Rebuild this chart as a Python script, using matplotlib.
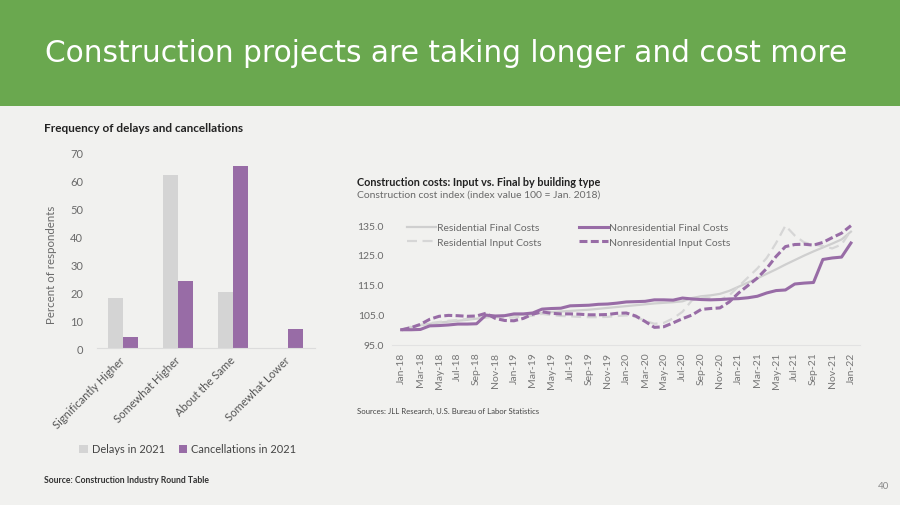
import numpy as np
import matplotlib
matplotlib.use("Agg")
import matplotlib.pyplot as plt
from matplotlib.patches import Rectangle

# ---- left chart data (percent of respondents)
categories = ["Significantly Higher", "Somewhat Higher", "About the Same", "Somewhat Lower"]
delays_2021 = [18, 62, 20, 0]
cancellations_2021 = [4, 24, 65, 7]

# ---- right chart data (index, 100 = Jan 2018), monthly Jan-18 .. Jan-22
month_labels = ["Jan-18", "Mar-18", "May-18", "Jul-18", "Sep-18", "Nov-18",
                "Jan-19", "Mar-19", "May-19", "Jul-19", "Sep-19", "Nov-19",
                "Jan-20", "Mar-20", "May-20", "Jul-20", "Sep-20", "Nov-20",
                "Jan-21", "Mar-21", "May-21", "Jul-21", "Sep-21", "Nov-21",
                "Jan-22"]
res_final = [100.0, 100.8, 101.5, 102.0, 102.4, 102.7, 103.0, 103.3, 103.7, 104.1,
             104.4, 104.7, 104.9, 105.1, 105.3, 105.6, 105.9, 106.1, 106.3, 106.5,
             106.7, 107.0, 107.3, 107.6, 107.9, 108.2, 108.5, 108.8, 109.0, 109.2,
             109.5, 110.6, 111.2, 111.5, 112.0, 113.0, 114.4, 115.8, 117.2, 118.7,
             120.2, 121.8, 123.3, 124.8, 126.2, 127.5, 128.8, 130.2, 132.8]
res_input = [100.0, 101.0, 101.6, 102.2, 102.6, 103.0, 103.3, 103.6, 103.9, 104.3,
             104.2, 104.0, 104.1, 104.4, 104.7, 105.3, 104.9, 104.6, 104.5, 104.3,
             104.2, 104.2, 104.3, 104.6, 104.8, 104.3, 103.0, 102.0, 102.3, 103.8,
             106.0, 109.8, 111.0, 110.5, 110.0, 111.5, 114.5, 117.5, 120.5, 124.0,
             129.0, 134.8, 131.5, 129.2, 128.5, 128.0, 127.2, 128.5, 133.2]
nonres_final = [100.0, 100.0, 100.1, 101.3, 101.4, 101.6, 101.9, 101.9, 102.0, 104.9,
                104.6, 104.7, 105.3, 105.3, 105.6, 106.9, 107.1, 107.2, 108.0, 108.1,
                108.2, 108.5, 108.6, 108.9, 109.3, 109.4, 109.5, 110.0, 110.0, 109.9,
                110.6, 110.3, 110.1, 110.0, 110.1, 110.3, 110.4, 110.7, 111.2, 112.3,
                113.1, 113.3, 115.3, 115.6, 115.8, 123.5, 124.0, 124.3, 129.0]
nonres_input = [100.0, 100.7, 101.8, 103.5, 104.5, 104.8, 104.7, 104.5, 104.6, 105.5,
                103.8, 103.1, 103.0, 103.8, 105.2, 106.0, 105.5, 105.3, 105.3, 105.2,
                105.0, 105.0, 105.1, 105.5, 105.6, 104.6, 102.8, 100.8, 101.0, 102.3,
                103.7, 104.9, 106.8, 107.1, 107.3, 109.3, 112.3, 114.8, 117.3, 120.5,
                124.5, 127.8, 128.5, 128.6, 128.3, 129.2, 130.8, 132.3, 134.8]

purple = "#986ca6"
light_gray = "#d4d4d4"
txt_gray = "#6a6a6a"

plt.rcParams["font.family"] = ["Lato", "DejaVu Sans"]

fig = plt.figure(figsize=(9, 5.06), dpi=100)
fig.patch.set_facecolor("#f1f1ef")

# header band
fig.patches.append(Rectangle((0, 1 - 107 / 506), 1, 107 / 506, transform=fig.transFigure,
                             facecolor="#6aa84f", edgecolor="none", zorder=0))
fig.text(0.496, 1 - 53 / 506, "Construction projects are taking longer and cost more",
         color="white", fontsize=21.3, ha="center", va="center", family="DejaVu Sans")

# ---------------- left: bar chart
ax1 = fig.add_axes([97 / 900, 1 - 349.3 / 506, 218 / 900, 196 / 506])
ax1.set_facecolor("none")
x = np.arange(len(categories))
w = 0.27
b1 = ax1.bar(x - w / 2, delays_2021, w, color=light_gray, label="Delays in 2021")
b2 = ax1.bar(x + w / 2, cancellations_2021, w, color=purple, label="Cancellations in 2021")
ax1.set_xlim(-0.47, 3.49)
ax1.set_ylim(0, 70)
ax1.set_yticks(range(0, 71, 10))
for s in ["top", "right", "left"]:
    ax1.spines[s].set_visible(False)
ax1.spines["bottom"].set_color("#dcdcdc")
ax1.tick_params(axis="y", length=0, pad=10, labelsize=8, labelcolor=txt_gray)
ax1.tick_params(axis="x", length=0, pad=7, labelsize=8, labelcolor="#555555")
ax1.set_xticks(x)
ax1.set_xticklabels(categories, rotation=45, ha="right", va="center", rotation_mode="anchor")
ax1.set_ylabel("Percent of respondents", fontsize=8.3, color=txt_gray)
ax1.yaxis.set_label_coords(-0.185, 0.43)
fig.text(44 / 900, 1 - 128 / 506, "Frequency of delays and cancellations",
         fontsize=8.5, fontweight="bold", color="#222222", va="center")
ax1.legend(handles=[b1, b2], loc="center left", bbox_to_anchor=(74 / 900, 1 - 450 / 506),
           bbox_transform=fig.transFigure, ncol=2, frameon=False, borderpad=0,
           handlelength=0.75, handleheight=0.75, handletextpad=0.35, columnspacing=1.3,
           fontsize=7.9, labelcolor="#444444")
fig.text(44 / 900, 1 - 480.5 / 506, "Source: Construction Industry Round Table",
         fontsize=6.2, fontweight="bold", color="#333333", va="center")

# ---------------- right: line chart
ax2 = fig.add_axes([392.3 / 900, 1 - 345.7 / 506, 468 / 900, 125.6 / 506])
ax2.set_facecolor("none")
t = np.arange(len(res_final))
l1, = ax2.plot(t, res_final, color="#cfcfcf", lw=1.6, label="Residential Final Costs")
l2, = ax2.plot(t, res_input, color="#d6d6d6", lw=1.6, ls=(0, (4.5, 2.5)),
               label="Residential Input Costs")
l3, = ax2.plot(t, nonres_final, color=purple, lw=2.2, label="Nonresidential Final Costs")
l4, = ax2.plot(t, nonres_input, color=purple, lw=2.2, ls=(0, (2.6, 1.1)),
               label="Nonresidential Input Costs")
ax2.set_xlim(-1, 49)
ax2.set_ylim(95, 137)
ax2.set_yticks([95, 105, 115, 125, 135])
ax2.set_yticklabels([f"{v:.1f}" for v in [95, 105, 115, 125, 135]])
ax2.set_xticks(np.arange(0, 49, 2))
ax2.set_xticklabels(month_labels, rotation=90)
for s in ["top", "right", "left"]:
    ax2.spines[s].set_visible(False)
ax2.spines["bottom"].set_color("#e2e2e2")
ax2.tick_params(axis="y", length=0, pad=6, labelsize=7.5, labelcolor=txt_gray)
ax2.tick_params(axis="x", length=0, pad=5, labelsize=7.5, labelcolor="#777777")
ax2.legend(handles=[l1, l2, l3, l4], loc="upper left", bbox_to_anchor=(401.7 / 900, 1 - 219 / 506),
           bbox_transform=fig.transFigure, ncol=2, frameon=False, borderpad=0,
           handlelength=2.8, handletextpad=0.1, columnspacing=3.6, labelspacing=0.5,
           fontsize=7.5, labelcolor=txt_gray)
fig.text(357 / 900, 1 - 182.5 / 506, "Construction costs: Input vs. Final by building type",
         fontsize=7.8, fontweight="bold", color="#222222", va="center")
fig.text(357 / 900, 1 - 195 / 506, "Construction cost index (index value 100 = Jan. 2018)",
         fontsize=7.5, color=txt_gray, va="center")
fig.text(357 / 900, 1 - 411.5 / 506, "Sources: JLL Research, U.S. Bureau of Labor Statistics",
         fontsize=5.6, color="#444444", va="center")

fig.text(883 / 900, 1 - 487 / 506, "40", fontsize=7, color="#888888", ha="center", va="center")

fig.savefig("out.png", dpi=100, facecolor=fig.get_facecolor())
